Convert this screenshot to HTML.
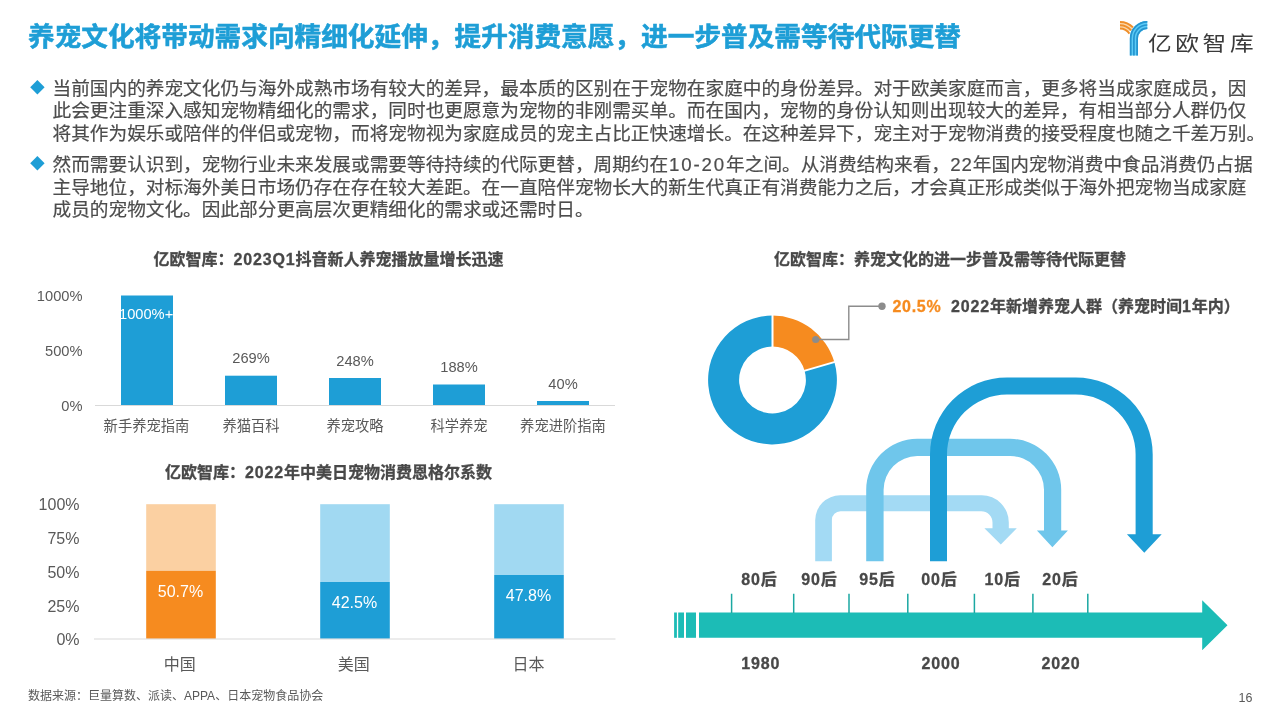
<!DOCTYPE html>
<html lang="zh-CN">
<head>
<meta charset="utf-8">
<title>养宠文化将带动需求向精细化延伸</title>
<style>
html,body{margin:0;padding:0;background:#fff;}
body{width:1280px;height:720px;position:relative;overflow:hidden;font-family:"Liberation Sans","Noto Sans CJK SC",sans-serif;color:#595959;}
.abs{position:absolute;white-space:nowrap;}
.t{position:absolute;white-space:nowrap;line-height:20px;height:20px;}
.c{transform:translateX(-50%);text-align:center;}
.r{transform:translateX(-100%);text-align:right;}
#title{left:28px;top:17px;font-size:26.67px;line-height:40px;font-weight:bold;color:#1e9ed6;-webkit-text-stroke:0.55px #1e9ed6;}
.body{left:52.5px;font-size:18.67px;line-height:22px;height:22px;color:#4c4c4c;-webkit-text-stroke:0.2px #4c4c4c;}
.body span{letter-spacing:0;}
.just{text-align:justify;text-align-last:justify;}
.h{font-size:16px;font-weight:bold;color:#484848;-webkit-text-stroke:0.3px currentColor;}
.ax1{font-size:14.67px;color:#595959;}
.cat{font-size:14.3px;color:#595959;}
.ax2{font-size:16px;color:#595959;}
.w{color:#fff;}
.n{letter-spacing:.85px;}
svg{position:absolute;left:0;top:0;}
</style>
</head>
<body>
<svg width="1280" height="720" viewBox="0 0 1280 720">
  <!-- logo -->
  <g fill="none" stroke-linecap="butt">
    <path d="M1120 25.1 A14.9 14.9 0 0 1 1131 30" stroke="#fbd9ae" stroke-width="7"/>
    <path d="M1120 21.9 A18.1 18.1 0 0 1 1133 27.4" stroke="#ef8f2a" stroke-width="2"/>
    <path d="M1120 25.2 A14.8 14.8 0 0 1 1131.2 30.4" stroke="#ef8f2a" stroke-width="2"/>
    <path d="M1120 28.5 A11.5 11.5 0 0 1 1129.5 33.6" stroke="#ef8f2a" stroke-width="2"/>
    <path d="M1133.9 55.6 V38.4 A13.4 13.4 0 0 1 1147.3 25" stroke="#5ccbf6" stroke-width="8"/>
    <path d="M1130.7 55.6 V38.4 A16.6 16.6 0 0 1 1147.3 21.8" stroke="#2595d0" stroke-width="1.8"/>
    <path d="M1133.9 55.6 V38.4 A13.4 13.4 0 0 1 1147.3 25" stroke="#2595d0" stroke-width="1.7"/>
    <path d="M1137.1 55.6 V38.4 A10.2 10.2 0 0 1 1147.3 28.2" stroke="#2595d0" stroke-width="1.8"/>
  </g>

  <!-- bullets -->
  <path d="M37.4 80 L44.6 87.3 L37.4 94.6 L30.2 87.3Z" fill="#1e9ed6"/>
  <path d="M37.4 156 L44.6 163.3 L37.4 170.6 L30.2 163.3Z" fill="#1e9ed6"/>

  <!-- chart 1 -->
  <rect x="95" y="405" width="520" height="1" fill="#d9d9d9"/>
  <g fill="#1e9ed6">
    <rect x="121" y="295.5" width="52" height="109.5"/>
    <rect x="225" y="375.7" width="52" height="29.3"/>
    <rect x="329" y="378" width="52" height="27"/>
    <rect x="433" y="384.5" width="52" height="20.5"/>
    <rect x="537" y="401" width="52" height="4"/>
  </g>

  <!-- chart 2 -->
  <rect x="146.2" y="504.2" width="69.6" height="66.6" fill="#fbd0a2"/>
  <rect x="146.2" y="570.8" width="69.6" height="68" fill="#f68b1f"/>
  <rect x="320.2" y="504.2" width="69.6" height="77.8" fill="#a1d9f2"/>
  <rect x="320.2" y="582" width="69.6" height="56.8" fill="#1e9ed6"/>
  <rect x="494.2" y="504.2" width="69.6" height="70.8" fill="#a1d9f2"/>
  <rect x="494.2" y="575" width="69.6" height="63.8" fill="#1e9ed6"/>
  <rect x="94" y="638.5" width="521.5" height="1" fill="#d9d9d9"/>

  <!-- donut -->
  <g transform="translate(772.5 380)">
    <path d="M61.84 -17.97 A64.4 64.4 0 1 1 0 -64.4 L0 -33.4 A33.4 33.4 0 1 0 32.07 -9.32Z" fill="#1e9ed6"/>
    <path d="M0 -64.4 A64.4 64.4 0 0 1 61.85 -17.97 L32.08 -9.32 A33.4 33.4 0 0 0 0 -33.4Z" fill="#f68b1f"/>
    <path d="M0 -66 V-32" stroke="#fff" stroke-width="2"/>
    <path d="M30.7 -8.9 L63.4 -18.4" stroke="#fff" stroke-width="2"/>
  </g>
  <path d="M815.7 339.5 H848.8 V306.3 H882" fill="none" stroke="#8c8c8c" stroke-width="1.4"/>
  <circle cx="815.7" cy="339.5" r="3.6" fill="#8c8c8c"/>
  <circle cx="882" cy="306.3" r="3.7" fill="#8c8c8c"/>

  <!-- U arrows -->
  <path fill="#a3daf4" d="M815.2 561.3 V520.3 A25 25 0 0 1 840.2 495.3 H981.7 A27.1 27.1 0 0 1 1008.8 522.4 V528.2 H1016.8 L1000.8 544.4 L984.4 528.2 H992.5 V522.6 A11.3 11.3 0 0 0 981.2 511.3 H840.5 A8.6 8.6 0 0 0 831.9 519.9 V561.3Z"/>
  <path fill="#6fc6eb" d="M866.2 561.3 V489.8 A51 51 0 0 1 917.2 438.8 H1010.2 A51 51 0 0 1 1061.2 489.8 V530.6 H1067.9 L1052.4 547.3 L1036.9 530.6 H1044 V489.8 A33.8 33.8 0 0 0 1010.2 456 H917.2 A33.8 33.8 0 0 0 883.6 489.8 V561.3Z"/>
  <path fill="#1e9ed6" d="M930 561.3 V454.5 A77 77 0 0 1 1007 377.5 H1075.7 A77 77 0 0 1 1152.7 454.5 V534.3 H1161.7 L1144.3 552.7 L1126.9 534.3 H1135.6 V454.5 A59.9 59.9 0 0 0 1075.7 394.6 H1007 A59.9 59.9 0 0 0 947 454.5 V561.3Z"/>

  <!-- timeline -->
  <g fill="#1cbcb6">
    <rect x="674.1" y="612.5" width="2.8" height="25.3"/>
    <rect x="678.2" y="612.5" width="5.8" height="25.3"/>
    <rect x="686" y="612.5" width="10" height="25.3"/>
    <path d="M699 612.5 H1202.2 V600.2 L1227.5 625.2 L1202.2 650.3 V637.8 H699Z"/>
  </g>
  <g stroke="#1ba8a2" stroke-width="1.5">
    <path d="M731.6 593.7V613 M793.7 593.7V613 M849 593.7V613 M907.8 593.7V613 M974.4 593.7V613 M1032.9 593.7V613 M1087.8 593.7V613"/>
  </g>
</svg>

<div id="title" class="abs">养宠文化将带动需求向精细化延伸，提升消费意愿，进一步普及需等待代际更替</div>
<div class="abs" id="logot" style="left:1147.6px;top:29px;font-size:20.6px;line-height:30px;font-weight:400;letter-spacing:3.15px;color:#3a3a3a;transform:scaleX(1.15);transform-origin:0 0;">亿欧智库</div>

<div class="t body" style="top:78px;">当前国内的养宠文化仍与海外成熟市场有较大的差异，最本质的区别在于宠物在家庭中的身份差异。对于欧美家庭而言，更多将当成家庭成员，因</div>
<div class="t body" style="top:100px;">此会更注重深入感知宠物精细化的需求，同时也更愿意为宠物的非刚需买单。而在国内，宠物的身份认知则出现较大的差异，有相当部分人群仍仅</div>
<div class="t body" style="top:123px;">将其作为娱乐或陪伴的伴侣或宠物，而将宠物视为家庭成员的宠主占比正快速增长。在这种差异下，宠主对于宠物消费的接受程度也随之千差万别。</div>
<div class="t body" style="top:154px;">然而需要认识到，宠物行业未来发展或需要等待持续的代际更替，周期约在<span style="letter-spacing:1.86px;margin-left:0.9px">10-20</span>年之间。从消费结构来看，<span style="letter-spacing:0.87px;margin-left:0.4px">22</span>年国内宠物消费中食品消费仍占据</div>
<div class="t body" style="top:177px;">主导地位，对标海外美日市场仍存在存在较大差距。在一直陪伴宠物长大的新生代真正有消费能力之后，才会真正形成类似于海外把宠物当成家庭</div>
<div class="t body" style="top:199px;">成员的宠物文化。因此部分更高层次更精细化的需求或还需时日。</div>

<!-- chart1 -->
<div class="t h c" style="left:328.5px;top:250px;">亿欧智库：<span class="n">2023Q1</span>抖音新人养宠播放量增长迅速</div>
<div class="t ax1 r" style="left:82.5px;top:286px;">1000%</div>
<div class="t ax1 r" style="left:82.5px;top:341px;">500%</div>
<div class="t ax1 r" style="left:82.5px;top:396px;">0%</div>
<div class="t ax1 c w" style="left:147px;top:303.5px;width:52px;overflow:hidden;transform:none;margin-left:-26px;"><span style="display:inline-block;margin-left:-2px;">1000%+</span></div>
<div class="t ax1 c" style="left:251px;top:348px;">269%</div>
<div class="t ax1 c" style="left:355px;top:351px;">248%</div>
<div class="t ax1 c" style="left:459px;top:357px;">188%</div>
<div class="t ax1 c" style="left:563px;top:373.5px;">40%</div>
<div class="t cat c" style="left:146.5px;top:416px;">新手养宠指南</div>
<div class="t cat c" style="left:251px;top:416px;">养猫百科</div>
<div class="t cat c" style="left:355px;top:416px;">养宠攻略</div>
<div class="t cat c" style="left:459px;top:416px;">科学养宠</div>
<div class="t cat c" style="left:563px;top:416px;">养宠进阶指南</div>

<!-- chart2 -->
<div class="t h c" style="left:328.5px;top:462.6px;">亿欧智库：<span class="n">2022</span>年中美日宠物消费恩格尔系数</div>
<div class="t ax2 r" style="left:79.5px;top:495px;">100%</div>
<div class="t ax2 r" style="left:79.5px;top:528.6px;">75%</div>
<div class="t ax2 r" style="left:79.5px;top:563px;">50%</div>
<div class="t ax2 r" style="left:79.5px;top:597px;">25%</div>
<div class="t ax2 r" style="left:79.5px;top:629.5px;">0%</div>
<div class="t ax2 c w" style="left:180.5px;top:581.5px;">50.7%</div>
<div class="t ax2 c w" style="left:354.5px;top:592.5px;">42.5%</div>
<div class="t ax2 c w" style="left:528.5px;top:585.5px;">47.8%</div>
<div class="t ax2 c" style="left:179.8px;top:655px;">中国</div>
<div class="t ax2 c" style="left:353.8px;top:655px;">美国</div>
<div class="t ax2 c" style="left:528.5px;top:655px;">日本</div>

<div class="t" style="left:28px;top:686px;font-size:12px;color:#595959;">数据来源：巨量算数、派读、APPA、日本宠物食品协会</div>
<div class="t r" style="left:1252.5px;top:687.5px;font-size:12.5px;color:#595959;">16</div>

<!-- right -->
<div class="t h c" style="left:950px;top:250px;">亿欧智库：养宠文化的进一步普及需等待代际更替</div>
<div class="t h" style="left:892.5px;top:297px;color:#f68b1f;"><span class="n" style="letter-spacing:.7px">20.5%</span></div>
<div class="t h" style="left:951px;top:297px;"><span class="n">2022</span>年新增养宠人群（养宠时间<span class="n">1</span>年内）</div>

<div class="t h c" style="left:759px;top:570.4px;"><span class="n">80</span>后</div>
<div class="t h c" style="left:819px;top:570.4px;"><span class="n">90</span>后</div>
<div class="t h c" style="left:877px;top:570.4px;"><span class="n">95</span>后</div>
<div class="t h c" style="left:939px;top:570.4px;"><span class="n">00</span>后</div>
<div class="t h c" style="left:1002.3px;top:570.4px;"><span class="n">10</span>后</div>
<div class="t h c" style="left:1060px;top:570.4px;"><span class="n">20</span>后</div>
<div class="t h c" style="left:760.7px;top:654px;"><span class="n">1980</span></div>
<div class="t h c" style="left:941px;top:654px;"><span class="n">2000</span></div>
<div class="t h c" style="left:1061px;top:654px;"><span class="n">2020</span></div>
</body>
</html>
